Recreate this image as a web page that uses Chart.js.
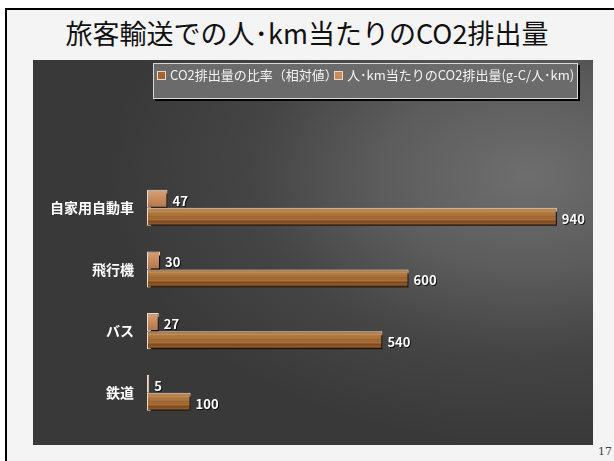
<!DOCTYPE html>
<html>
<head>
<meta charset="utf-8">
<script src="https://cdn.jsdelivr.net/npm/chart.js@4"></script>
<style>
  html, body { margin: 0; padding: 0; background: #fff; }
  #slide { position: relative; width: 614px; height: 461px; overflow: hidden; background: #fff; }
  #sheet { position: absolute; left: 5px; top: 8px; right: 0; bottom: 0;
           border-left: 2px solid #000; border-top: 2px solid #000; background: #f4f4f4; }
  #title { position: absolute; left: 0; width: 614px; top: 16px; text-align: center;
           font: 400 27px "Noto Sans CJK JP", sans-serif; color: #111; line-height: 34px; }
  #panel { position: absolute; left: 33px; top: 60px; width: 560px; height: 385px;
           background: radial-gradient(ellipse 75% 70% at 88% 30%, #6e6e6e 0%, #5c5c5c 35%, #454545 65%, #393939 100%); }
  #chartWrap { position: absolute; left: 0; top: 0; width: 560px; height: 385px; }
  #legend { position: absolute; left: 120px; top: 3px; width: 423px; height: 34px;
            background: #6b6b6b; border: 1px solid #d8d8d8; box-shadow: 2px 2px 0 #000;
            font: 400 13px "Noto Sans CJK JP", sans-serif; color: #f4f4f4; white-space: nowrap; }
  #legend span.item { position: absolute; top: 2px; line-height: 17px; }
  #legend i { display: inline-block; width: 7px; height: 7px; border: 1px solid #e8d8c8;
              margin-right: 4px; vertical-align: 0px; }
  #pageNo { position: absolute; left: 598px; top: 445px; font: 11px "DejaVu Serif", serif; color: #444; }
</style>
</head>
<body>
<div id="slide">
  <div id="sheet"></div>
  <div id="title">旅客輸送での人･km当たりのCO2排出量</div>
  <div id="panel">
    <div id="chartWrap"><canvas id="chart" width="560" height="385"></canvas></div>
    <div id="legend"></div>
  </div>
  <div id="pageNo">17</div>
</div>
<script>
/* ── DATA ── */
const categories  = ['自家用自動車', '飛行機', 'バス', '鉄道'];
const seriesNames = ['CO2排出量の比率（相対値）', '人･km当たりのCO2排出量(g-C/人･km)'];
const ratioValues = [47, 30, 27, 5];
const co2Values   = [940, 600, 540, 100];

const CAT_PCT = 0.585;

/* ── WOOD FILL ── */
function woodTile(h, light) {
  const c = document.createElement('canvas');
  c.width = 160; c.height = h;
  const g = c.getContext('2d');
  const grad = g.createLinearGradient(0, 0, 0, h);
  if (light) {
    grad.addColorStop(0, '#d7a37a');
    grad.addColorStop(0.5, '#c68b5e');
    grad.addColorStop(1, '#b07448');
  } else {
    grad.addColorStop(0, '#c08a55');
    grad.addColorStop(0.25, '#b07a42');
    grad.addColorStop(0.55, '#a46a34');
    grad.addColorStop(0.75, '#8a5426');
    grad.addColorStop(1, '#6e4019');
  }
  g.fillStyle = grad;
  g.fillRect(0, 0, c.width, h);
  if (!light) {
    const streaks = [[0.18, '#c7945f', 0.6], [0.42, '#93592a', 0.5], [0.62, '#b98246', 0.5],
                     [0.7, '#7a4520', 0.6], [0.86, '#9c6530', 0.5]];
    streaks.forEach(([p, col, a]) => {
      g.globalAlpha = a;
      g.fillStyle = col;
      g.fillRect(0, Math.round(p * h), c.width, 1);
    });
    g.globalAlpha = 1;
  }
  return c;
}

function barFill(ctx) {
  const chart = ctx.chart;
  const y = chart.scales.y;
  if (!y || isNaN(y.getPixelForValue(0))) return '#a46a34';
  const band = y.getPixelForValue(1) - y.getPixelForValue(0);
  const h = band * CAT_PCT / 2;
  const top = y.getPixelForValue(ctx.dataIndex) + (ctx.datasetIndex === 0 ? -h : 0);
  const pat = chart.ctx.createPattern(woodTile(Math.round(h), ctx.datasetIndex === 0), 'repeat');
  pat.setTransform(new DOMMatrix().translate(0, Math.round(top)));
  return pat;
}

/* ── PLUGINS ── */
const shadowPlugin = {
  id: 'barShadow',
  beforeDatasetsDraw(chart) {
    const c = chart.ctx;
    c.save();
    c.shadowColor = '#000';
    c.shadowOffsetX = 3;
    c.shadowOffsetY = 3;
    c.shadowBlur = 0;
  },
  afterDatasetsDraw(chart) {
    chart.ctx.restore();
  }
};

const valueLabels = {
  id: 'valueLabels',
  afterDatasetsDraw(chart) {
    const c = chart.ctx;
    c.save();
    c.font = 'bold 13px "Noto Sans CJK JP", sans-serif';
    c.fillStyle = '#fff';
    c.textAlign = 'left';
    c.textBaseline = 'middle';
    c.shadowColor = 'rgba(0,0,0,0.8)';
    c.shadowOffsetX = 1;
    c.shadowOffsetY = 1;
    chart.data.datasets.forEach((ds, di) => {
      chart.getDatasetMeta(di).data.forEach((bar, i) => {
        c.fillText(ds.data[i], bar.x + 5, bar.y + 2);
      });
    });
    c.restore();
  }
};

/* ── CHART ── */
new Chart(document.getElementById('chart'), {
  type: 'bar',
  data: {
    labels: categories,
    datasets: [
      { label: seriesNames[0], data: ratioValues, backgroundColor: barFill,
        borderColor: '#eadccf', borderWidth: 1, borderSkipped: false },
      { label: seriesNames[1], data: co2Values, backgroundColor: barFill,
        borderColor: '#eadccf', borderWidth: 1, borderSkipped: false }
    ]
  },
  options: {
    indexAxis: 'y',
    responsive: false,
    animation: false,
    layout: { padding: { left: 0, right: 10, top: 117, bottom: 8 } },
    datasets: { bar: { categoryPercentage: CAT_PCT, barPercentage: 1 } },
    plugins: { legend: { display: false }, tooltip: { enabled: false } },
    scales: {
      x: { display: false, min: 0, max: 1000 },
      y: {
        grid: { display: false, drawTicks: false },
        border: { display: false },
        ticks: { color: '#fff', padding: 13, font: { family: '"Noto Sans CJK JP", sans-serif', size: 14, weight: 'bold' } },
        afterFit(s) { s.width = 114; }
      }
    }
  },
  plugins: [shadowPlugin, valueLabels]
});

/* ── LEGEND ── */
const legendEl = document.getElementById('legend');
const swatch = ['#a5632d', '#c98a5c'];
const legendX = [3, 180];
seriesNames.forEach((name, i) => {
  const s = document.createElement('span');
  s.className = 'item';
  s.style.left = legendX[i] + 'px';
  s.innerHTML = '<i style="background:' + swatch[i] + '"></i>' + name;
  legendEl.appendChild(s);
});
</script>
</body>
</html>
